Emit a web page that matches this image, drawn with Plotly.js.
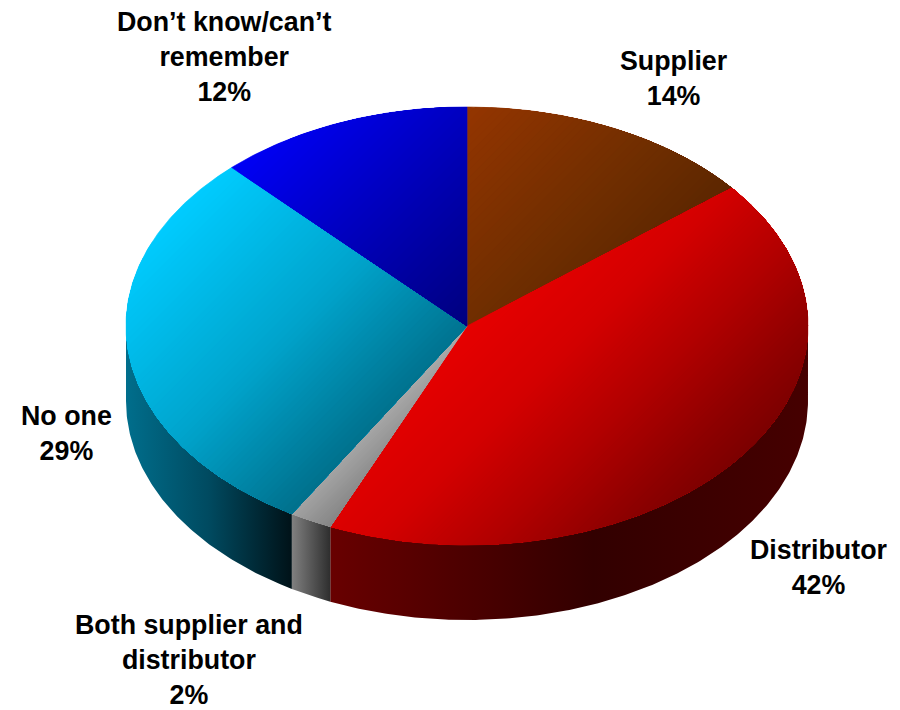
<!DOCTYPE html>
<html>
<head>
<meta charset="utf-8">
<script src="https://cdn.plot.ly/plotly-3.0.1.min.js"></script>
<style>html,body{margin:0;padding:0;background:#fff}#chart{width:900px;height:710px}</style>
</head>
<body>
<div id="chart"></div>
<script>
// Survey shares, clockwise from twelve o'clock
const categories = ['Supplier', 'Distributor', 'Both supplier and<br>distributor', 'No one', 'Don\u2019t know/can\u2019t<br>remember'];
const shares = [14, 42, 2, 29, 12];

// Top-face colour ramps, from the upper-left to the lower-right of each slice
const topRamps = [
  [[0, '#943500'], [0.63, '#702e00'], [1, '#5c2600']],
  [[0, '#e60000'], [0.3, '#d40000'], [0.6, '#b00000'], [0.85, '#8e0000'], [1, '#7c0000']],
  [[0, '#aaaaaa'], [1, '#858585']],
  [[0, '#00ccff'], [0.55, '#00a4cc'], [1, '#00708c']],
  [[0, '#0000f5'], [1, '#00007e']]
];
// Side-wall colour ramps, left to right
const wallRamps = [
  [[0, '#4a2000'], [1, '#4a2000']],
  [[0, '#680000'], [0.55, '#320000'], [1, '#460000']],
  [[0, '#808080'], [1, '#2e2e2e']],
  [[0, '#006e8c'], [0.5, '#004a60'], [1, '#001218']],
  [[0, '#000060'], [1, '#000060']]
];
const labelAnchors = [[673.5, 78], [819, 567.5], [189, 660], [66, 433], [224, 56.5]];

// Projected disc geometry in plot units
const disc = {cx: 467, cy: 326, rx: 341, ry: 219, depth: 75};
const total = shares.reduce((a, b) => a + b, 0);

function rim(t, drop) {
  return [disc.cx + disc.rx * Math.sin(t), disc.cy - disc.ry * Math.cos(t) + (drop || 0)];
}
function arc(t0, t1, drop) {
  const n = Math.max(2, Math.ceil(Math.abs(t1 - t0) / 0.01));
  const pts = [];
  for (let i = 0; i <= n; i++) pts.push(rim(t0 + (t1 - t0) * i / n, drop));
  return pts;
}
function hex(c) { return [1, 3, 5].map(i => parseInt(c.substr(i, 2), 16)); }
function ramp(stops, u) {
  for (let i = 1; i < stops.length; i++) {
    if (u <= stops[i][0]) {
      const f = (u - stops[i - 1][0]) / (stops[i][0] - stops[i - 1][0]);
      const a = hex(stops[i - 1][1]), b = hex(stops[i][1]);
      return 'rgb(' + a.map((v, k) => Math.round(v + (b[k] - v) * f)).join(',') + ')';
    }
  }
  return stops[stops.length - 1][1];
}
// Keep the part of a convex polygon on the lower-right of the line x + y = level
function clipDiagonal(poly, level) {
  const out = [];
  for (let i = 0; i < poly.length; i++) {
    const p = poly[i], q = poly[(i + 1) % poly.length];
    const dp = p[0] + p[1] - level, dq = q[0] + q[1] - level;
    if (dp >= 0) out.push(p);
    if (dp * dq < 0) {
      const f = dp / (dp - dq);
      out.push([p[0] + (q[0] - p[0]) * f, p[1] + (q[1] - p[1]) * f]);
    }
  }
  return out;
}
function area(pts, style) {
  const closed = pts.concat([pts[0]]);
  return Object.assign({
    x: closed.map(p => p[0]), y: closed.map(p => p[1]),
    type: 'scatter', mode: 'lines', fill: 'toself',
    hoverinfo: 'skip', showlegend: false
  }, style);
}

const walls = [], tops = [];
let running = 0;
shares.forEach((share, i) => {
  const t0 = running / total * 2 * Math.PI;
  running += share;
  const t1 = running / total * 2 * Math.PI;

  // Side wall: only the front half of the rim faces the viewer
  const a = Math.max(t0, Math.PI / 2), b = Math.min(t1, 3 * Math.PI / 2);
  if (b > a) {
    const upper = arc(a, b, 0), lower = arc(b, a, disc.depth);
    walls.push(area(upper.concat(lower), {
      line: {width: 0},
      fillgradient: {type: 'horizontal', colorscale: wallRamps[i]}
    }));
  }

  // Top face: stacked diagonal bands, each covering everything further along
  const poly = [[disc.cx, disc.cy]].concat(arc(t0, t1, 0));
  const levels = poly.map(p => p[0] + p[1]);
  const lo = Math.min(...levels), hi = Math.max(...levels);
  const steps = Math.max(8, Math.round(56 * share / 42) + 24);
  for (let s = 0; s < steps; s++) {
    const piece = s === 0 ? poly : clipDiagonal(poly, lo + (hi - lo) * s / steps);
    if (piece.length < 3) continue;
    const colour = ramp(topRamps[i], (s + 0.5) / steps);
    tops.push(area(piece, {line: {width: s === 0 ? 0.6 : 0, color: colour}, fillcolor: colour}));
  }
});

const labels = categories.map((c, i) => ({
  x: labelAnchors[i][0], y: labelAnchors[i][1],
  xref: 'x', yref: 'y', xanchor: 'center', yanchor: 'middle', align: 'center',
  showarrow: false,
  text: '<b>' + c + '<br>' + shares[i] + '%</b>',
  font: {family: 'Liberation Sans, Arial, sans-serif', size: 26.8, color: '#000'}
}));

Plotly.newPlot('chart', walls.concat(tops), {
  width: 900, height: 710,
  margin: {l: 0, r: 0, t: 0, b: 0},
  paper_bgcolor: '#fff', plot_bgcolor: '#fff',
  xaxis: {range: [0, 900], visible: false, fixedrange: true},
  yaxis: {range: [710, 0], visible: false, fixedrange: true},
  annotations: labels,
  showlegend: false
}, {displayModeBar: false, staticPlot: true});
</script>
</body>
</html>
